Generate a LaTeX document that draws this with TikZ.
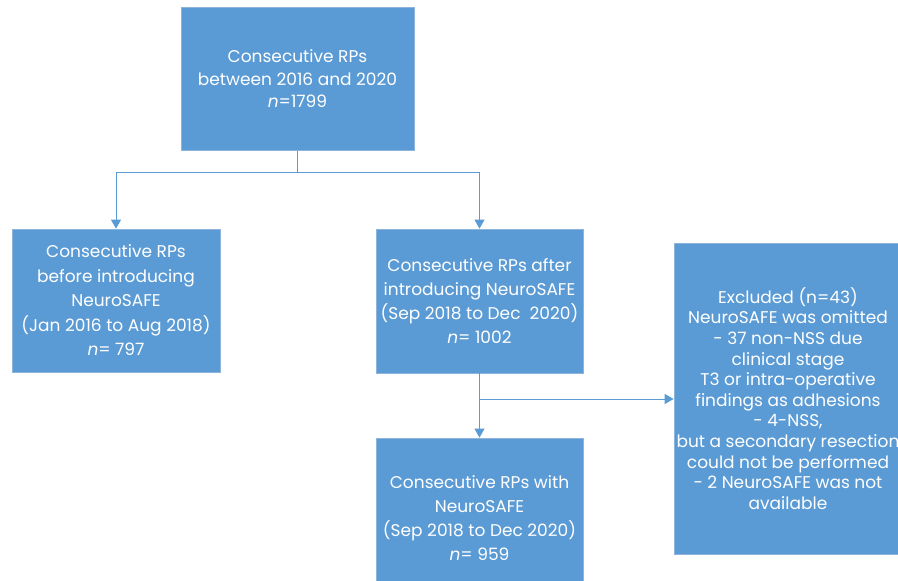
\documentclass[tikz,border=0pt]{standalone}
\usepackage{fontspec}
\setmainfont{Poppins}
\usetikzlibrary{arrows.meta}
\definecolor{boxblue}{HTML}{5B9BD5}
\definecolor{boxedge}{HTML}{8FB4DC}
\begin{document}
\begin{tikzpicture}[x=1pt,y=-1pt,
  box/.style={draw=boxedge, line width=0.8pt, fill=boxblue, text=white, align=center, inner sep=0pt, font=\fontsize{17}{24}\selectfont},
  conn/.style={draw=boxblue, line width=1pt},
  arr/.style={conn, -{Triangle[width=10pt,length=9pt]}}]
\useasboundingbox (0,0) rectangle (898,581);
\clip (0,0) rectangle (898,581);
\fill[white] (0,0) rectangle (898,581);
\node[box, minimum width=233pt, minimum height=143pt, font=\fontsize{17}{22.5}\selectfont] (top) at (297.5,79) {Consecutive RPs\\between 2016 and 2020\\\textit{n}=1799};
\node[box, minimum width=208pt, minimum height=143pt, font=\fontsize{17}{24.5}\selectfont] (left) at (116,300.5) {Consecutive RPs\\before introducing\\NeuroSAFE\\(Jan 2016 to Aug 2018)\\\textit{n}= 797};
\node[box, minimum width=207pt, minimum height=144pt] (mid) at (479.5,301) {Consecutive RPs after\\introducing NeuroSAFE\\(Sep 2018 to Dec~~2020)\\\textit{n}= 1002};
\node[box, minimum width=207pt, minimum height=160pt] (bot) at (479.5,518) {Consecutive RPs with\\NeuroSAFE\\(Sep 2018 to Dec 2020)\\\textit{n}= 959};
\node[box, minimum width=228pt, minimum height=311pt, font=\fontsize{17}{20.6}\selectfont] (excl) at (788,398.5) {Excluded (n=43)\\NeuroSAFE was omitted\\- 37 non-NSS due\\clinical stage\\T3 or intra-operative\\findings as adhesions\\- 4-NSS,\\but a secondary resection\\could not be performed\\- 2 NeuroSAFE was not\\available};
\coordinate (j1) at (297.5,172);
\coordinate (j2) at (479.5,399);
\draw[conn] (top.south) -- (j1);
\draw[arr] (j1) -| (left.north);
\draw[arr] (j1) -| (mid.north);
\draw[arr] (mid.south) -- (bot.north);
\draw[arr] (j2) -- (excl.west |- j2);
\end{tikzpicture}
\end{document}
